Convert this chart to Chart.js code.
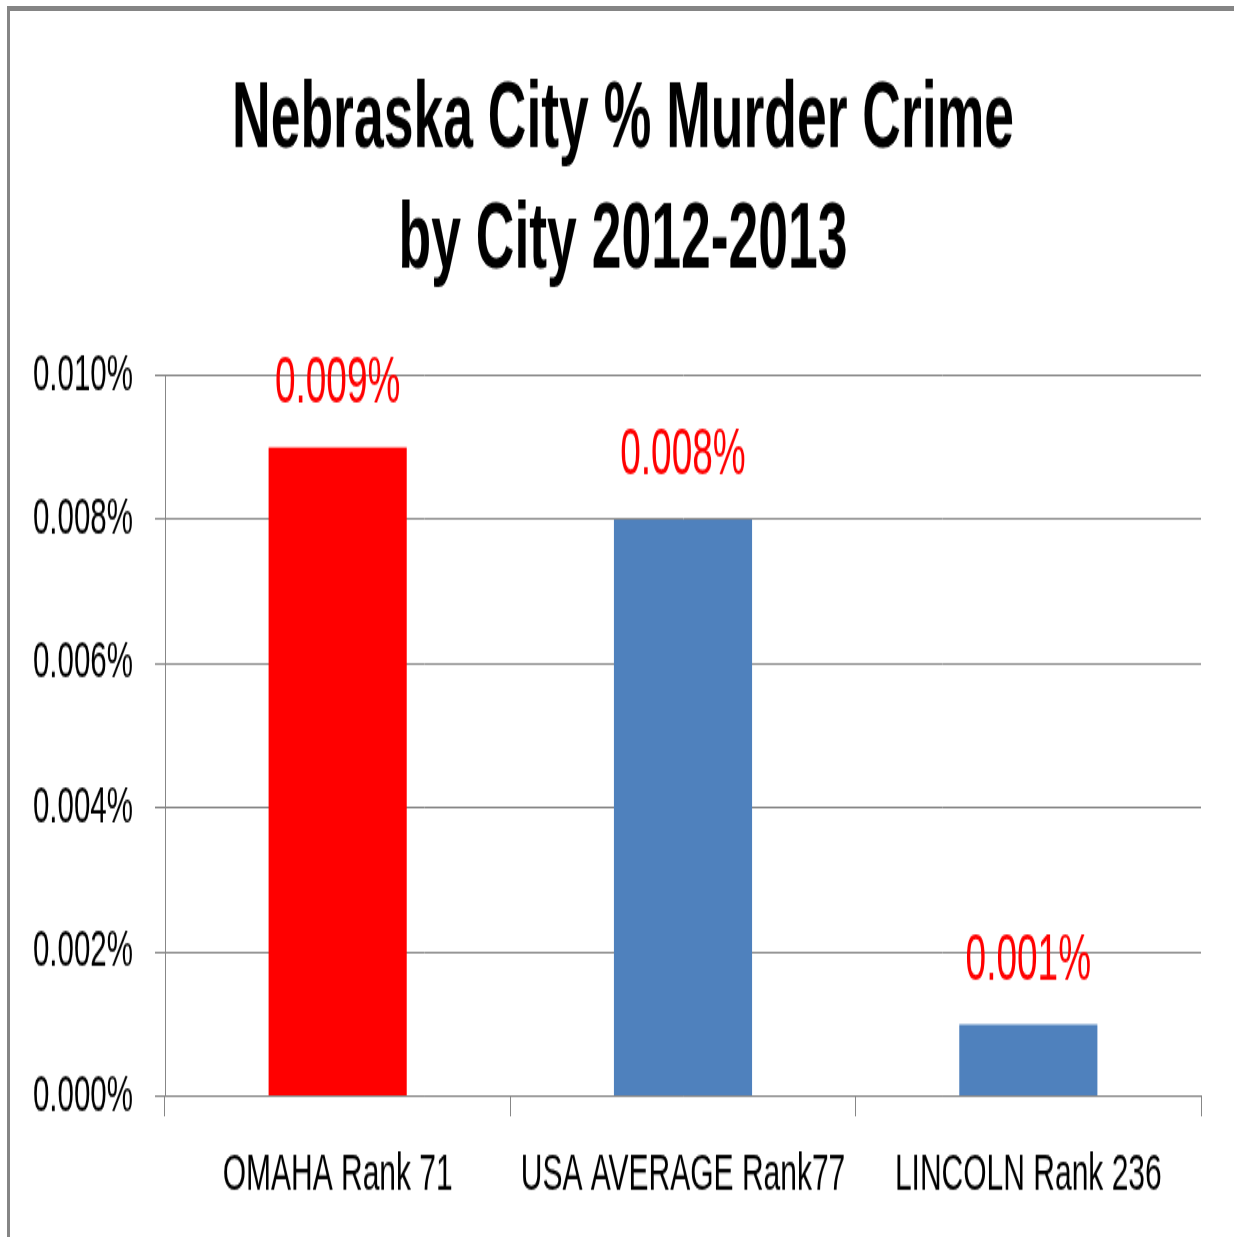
<!DOCTYPE html>
<html>
<head>
<meta charset="utf-8">
<title>Nebraska City % Murder Crime by City 2012-2013</title>
<script src="https://cdn.jsdelivr.net/npm/chart.js@4/dist/chart.umd.min.js"></script>
<style>
  html, body { margin: 0; padding: 0; background: #ffffff; overflow: hidden; }
  #marco {
    position: absolute; left: 7px; top: 6px; width: 1400px; height: 1400px;
    border-left: 3px solid #858585; border-top: 5px solid #858585;
  }
  #grafico { position: absolute; left: 0; top: 0; }
</style>
</head>
<body>
<div id="marco"></div>
<!-- el original es un grafico de Excel estirado en vertical: se dibuja a 707 px y se estira a 1237 -->
<canvas id="grafico" width="1234" height="707" style="width:1234px;height:1237px"></canvas>
<script>
const ciudades = ['OMAHA Rank 71', 'USA AVERAGE Rank77', 'LINCOLN Rank 236'];
const porcentajes = [0.009, 0.008, 0.001];
const coloresBarras = ['#FF0000', '#4F81BD', '#4F81BD'];
const tituloLineas = ['Nebraska City % Murder Crime', 'by City 2012-2013'];

const colorRejilla = '#878787';
const fuente = "'Liberation Sans', Arial, sans-serif";

// Etiquetas rojas encima de cada barra
const etiquetasValores = {
    id: 'etiquetasValores',
    afterDatasetsDraw(chart) {
        const ctx = chart.ctx;
        const meta = chart.getDatasetMeta(0);
        ctx.save();
        ctx.font = `37px ${fuente}`;
        ctx.fillStyle = '#FF0000';
        ctx.textAlign = 'center';
        ctx.textBaseline = 'middle';
        meta.data.forEach((barra, i) => {
            ctx.fillText(porcentajes[i].toFixed(3) + '%', barra.x, barra.y - 36);
        });
        ctx.restore();
    }
};

new Chart(document.getElementById('grafico').getContext('2d'), {
    type: 'bar',
    data: {
        labels: ciudades,
        datasets: [{
            data: porcentajes,
            backgroundColor: coloresBarras,
            borderWidth: 0,
            barPercentage: 0.4,
            categoryPercentage: 1.0
        }]
    },
    options: {
        responsive: false,
        animation: false,
        devicePixelRatio: 1,
        layout: { padding: { top: 0, right: 0, bottom: 1, left: 12 } },
        plugins: {
            legend: { display: false },
            tooltip: { enabled: false },
            title: {
                display: true,
                text: tituloLineas,
                color: '#000000',
                font: { family: fuente, size: 53.5, weight: 'bold', lineHeight: 1.283 },
                padding: { top: 35, bottom: 42.2 }
            }
        },
        scales: {
            y: {
                min: 0,
                max: 0.010,
                ticks: {
                    stepSize: 0.002,
                    color: '#000000',
                    padding: 22,
                    font: { family: fuente, size: 29.5 },
                    callback: v => v.toFixed(3) + '%'
                },
                grid: { color: colorRejilla, lineWidth: 1, tickLength: 10 },
                border: { display: true, color: colorRejilla, width: 1 },
                afterFit: escala => { escala.width = 153; }
            },
            // eje vacio a la derecha, solo reserva el margen del area de trazado
            margenDerecho: {
                type: 'linear',
                position: 'right',
                grid: { display: false },
                ticks: { display: false },
                border: { display: false },
                afterFit: escala => { escala.width = 33; }
            },
            x: {
                ticks: {
                    color: '#000000',
                    padding: 16,
                    maxRotation: 0,
                    autoSkip: false,
                    font: { family: fuente, size: 30 }
                },
                grid: {
                    offset: true,
                    drawOnChartArea: false,
                    drawTicks: true,
                    tickLength: 11.4,
                    color: colorRejilla,
                    lineWidth: 1
                },
                border: { display: true, color: colorRejilla, width: 1 }
            }
        }
    },
    plugins: [etiquetasValores]
});
</script>
</body>
</html>
